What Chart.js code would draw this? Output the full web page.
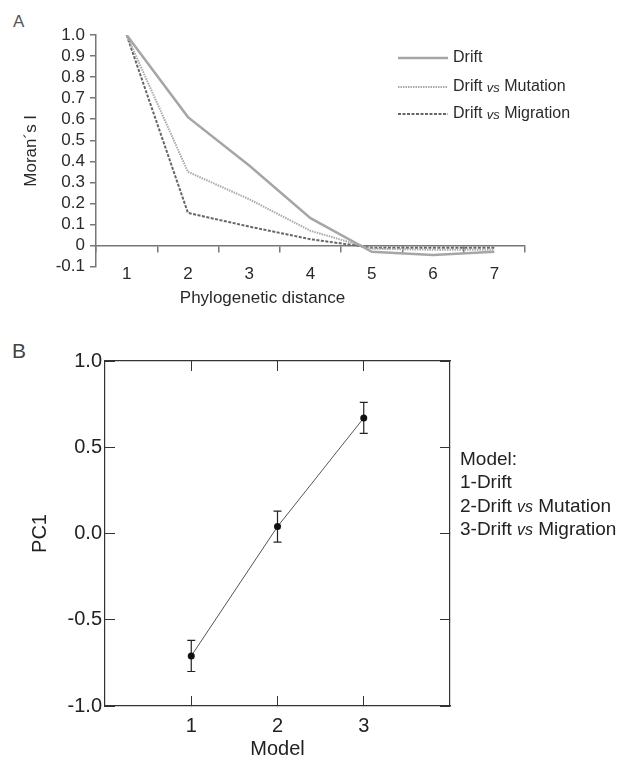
<!DOCTYPE html>
<html>
<head>
<meta charset="utf-8">
<script src="https://cdn.jsdelivr.net/npm/chart.js@4.4.0/dist/chart.umd.min.js"></script>
<style>
  body { margin: 0; background: #fff; font-family: "Liberation Sans", Arial, sans-serif; }
  #wrap { position: relative; width: 624px; height: 759px; overflow: hidden; }
  canvas { position: absolute; left: 0; }
  .panel { position: absolute; line-height: 1; }
</style>
</head>
<body>
<div id="wrap">
  <div class="panel" style="left:13px; top:13px; font-size:17px; color:#555;">A</div>
  <canvas id="moranChart" width="624" height="314" style="top:0"></canvas>
  <div class="panel" style="left:12px; top:340px; font-size:21px; color:#444;">B</div>
  <canvas id="pcChart" width="624" height="445" style="top:314px"></canvas>
</div>

<script>
const FONT = '"Liberation Sans", Arial, sans-serif';

// Moran's I against phylogenetic distance
const distances = ['1', '2', '3', '4', '5', '6', '7'];
const drift = [1.0, 0.61, 0.38, 0.13, -0.03, -0.045, -0.03];
const driftMutation = [1.0, 0.35, 0.22, 0.07, -0.015, -0.02, -0.02];
const driftMigration = [1.0, 0.155, 0.09, 0.03, -0.01, -0.01, -0.01];
const seriesNames = ['Drift', 'Drift vs Mutation', 'Drift vs Migration'];

// PC1 score per model (mean and error)
const models = [1, 2, 3];
const pc1Mean = [-0.71, 0.04, 0.67];
const pc1Err = [0.09, 0.09, 0.09];
const modelLegend = ['Model:', '1-Drift', '2-Drift vs Mutation', '3-Drift vs Migration'];

// writes a label, putting "vs" in smaller italics
function drawLabel(ctx, text, x, y, size, color) {
  const parts = text.split(/( vs )/);
  ctx.save();
  ctx.fillStyle = color;
  ctx.textBaseline = 'middle';
  ctx.textAlign = 'left';
  parts.forEach(p => {
    ctx.font = `${size}px ${FONT}`;
    if (p === ' vs ') {
      const sp = ctx.measureText(' ').width;
      ctx.font = `italic ${Math.round(size * 0.82)}px ${FONT}`;
      ctx.fillText('vs', x + sp, y + 1);
      x += sp * 2 + ctx.measureText('vs').width;
    } else {
      ctx.fillText(p, x, y);
      x += ctx.measureText(p).width;
    }
  });
  ctx.restore();
}

const moranLegend = {
  id: 'moranLegend',
  afterDraw(chart) {
    const ctx = chart.ctx;
    const rows = [58, 87, 114];
    chart.data.datasets.forEach((ds, i) => {
      ctx.save();
      ctx.strokeStyle = ds.borderColor;
      ctx.lineWidth = ds.borderWidth;
      ctx.setLineDash(ds.borderDash || []);
      ctx.beginPath();
      ctx.moveTo(398, rows[i]);
      ctx.lineTo(448, rows[i]);
      ctx.stroke();
      ctx.restore();
      drawLabel(ctx, seriesNames[i], 453, rows[i], 16, '#2a2a2a');
    });
  }
};

new Chart(document.getElementById('moranChart'), {
  type: 'line',
  data: {
    labels: distances,
    datasets: [
      { label: seriesNames[0], data: drift, borderColor: '#a6a6a6', borderWidth: 2.5 },
      { label: seriesNames[1], data: driftMutation, borderColor: '#a9a9a9', borderWidth: 2, borderDash: [1.5, 1] },
      { label: seriesNames[2], data: driftMigration, borderColor: '#666', borderWidth: 2, borderDash: [3, 1.5] }
    ]
  },
  options: {
    responsive: false,
    animation: false,
    elements: { point: { radius: 0 }, line: { tension: 0 } },
    layout: { padding: { top: 35, right: 99, left: 0, bottom: 0 } },
    plugins: {
      legend: { display: false },
      tooltip: { enabled: false },
      title: {
        display: true, position: 'bottom', text: 'Phylogenetic distance', color: '#2a2a2a',
        font: { family: FONT, size: 17, weight: 'normal' }, padding: { top: 22, bottom: 5 }
      }
    },
    scales: {
      x: {
        position: { y: 0 },
        offset: true,
        grid: { offset: true, drawOnChartArea: false, tickLength: 6, color: '#777', lineWidth: 1.5 },
        border: { color: '#777', width: 1.5 },
        ticks: { color: '#2a2a2a', padding: 13, maxRotation: 0, font: { family: FONT, size: 17 } }
      },
      y: {
        min: -0.1,
        max: 1.0,
        afterFit: s => { s.width = 96; },
        grid: { drawOnChartArea: false, tickLength: 6, color: '#777', lineWidth: 1.5 },
        border: { color: '#777', width: 1.5 },
        ticks: {
          stepSize: 0.1, autoSkip: false, padding: 5, color: '#2a2a2a', font: { family: FONT, size: 17 },
          callback: v => { const r = Math.round(v * 10) / 10; return r === 0 ? '0' : r.toFixed(1); }
        },
        title: {
          display: true, text: 'Moran´s I', color: '#2a2a2a',
          font: { family: FONT, size: 17 }, padding: { top: 21 }
        }
      }
    }
  },
  plugins: [moranLegend]
});

const errorBars = {
  id: 'errorBars',
  beforeDatasetsDraw(chart) {
    const { ctx, scales: { x, y } } = chart;
    ctx.save();
    ctx.strokeStyle = '#222';
    ctx.lineWidth = 1.2;
    models.forEach((m, i) => {
      const px = x.getPixelForValue(m);
      const top = y.getPixelForValue(pc1Mean[i] + pc1Err[i]);
      const bot = y.getPixelForValue(pc1Mean[i] - pc1Err[i]);
      ctx.beginPath();
      ctx.moveTo(px, top); ctx.lineTo(px, bot);
      ctx.moveTo(px - 4, top); ctx.lineTo(px + 4, top);
      ctx.moveTo(px - 4, bot); ctx.lineTo(px + 4, bot);
      ctx.stroke();
    });
    ctx.restore();
  }
};

const modelKey = {
  id: 'modelKey',
  afterDraw(chart) {
    const rows = [146, 169, 193, 216];
    modelLegend.forEach((t, i) => drawLabel(chart.ctx, t, 460, rows[i], 19, '#222'));
  }
};

const frameGrid = { drawOnChartArea: false, tickLength: -10, color: '#333' };
const frameBorder = { color: '#333', width: 1.2 };
const modelTickSet = s => { s.ticks = models.map(v => ({ value: v })); };

new Chart(document.getElementById('pcChart'), {
  type: 'scatter',
  data: {
    datasets: [{
      data: models.map((m, i) => ({ x: m, y: pc1Mean[i] })),
      showLine: true,
      borderColor: '#555',
      borderWidth: 1,
      pointRadius: 3.5,
      pointBackgroundColor: '#111',
      pointBorderWidth: 0
    }]
  },
  options: {
    responsive: false,
    animation: false,
    layout: { padding: { top: 47, right: 174, left: 0, bottom: 0 } },
    plugins: { legend: { display: false }, tooltip: { enabled: false } },
    scales: {
      x: {
        type: 'linear', min: 0, max: 4,
        afterBuildTicks: modelTickSet,
        afterFit: s => { s.height = 53; },
        grid: frameGrid, border: frameBorder,
        ticks: { padding: 18, color: '#222', font: { family: FONT, size: 20 } },
        title: { display: true, text: 'Model', color: '#222', font: { family: FONT, size: 20, lineHeight: 1 }, padding: 0 }
      },
      xTop: {
        type: 'linear', position: 'top', min: 0, max: 4,
        afterBuildTicks: modelTickSet,
        afterFit: s => { s.height = 0; },
        grid: frameGrid, border: frameBorder,
        ticks: { display: false }
      },
      y: {
        min: -1, max: 1,
        afterFit: s => { s.width = 105; },
        grid: frameGrid, border: frameBorder,
        ticks: { stepSize: 0.5, padding: 13, color: '#222', font: { family: FONT, size: 20 }, callback: v => v.toFixed(1) },
        title: { display: true, text: 'PC1', color: '#222', font: { family: FONT, size: 20 }, padding: { top: 28 } }
      },
      yRight: {
        position: 'right', min: -1, max: 1,
        afterFit: s => { s.width = 0; },
        grid: frameGrid, border: frameBorder,
        ticks: { display: false, stepSize: 0.5 }
      }
    }
  },
  plugins: [errorBars, modelKey]
});
</script>
</body>
</html>
